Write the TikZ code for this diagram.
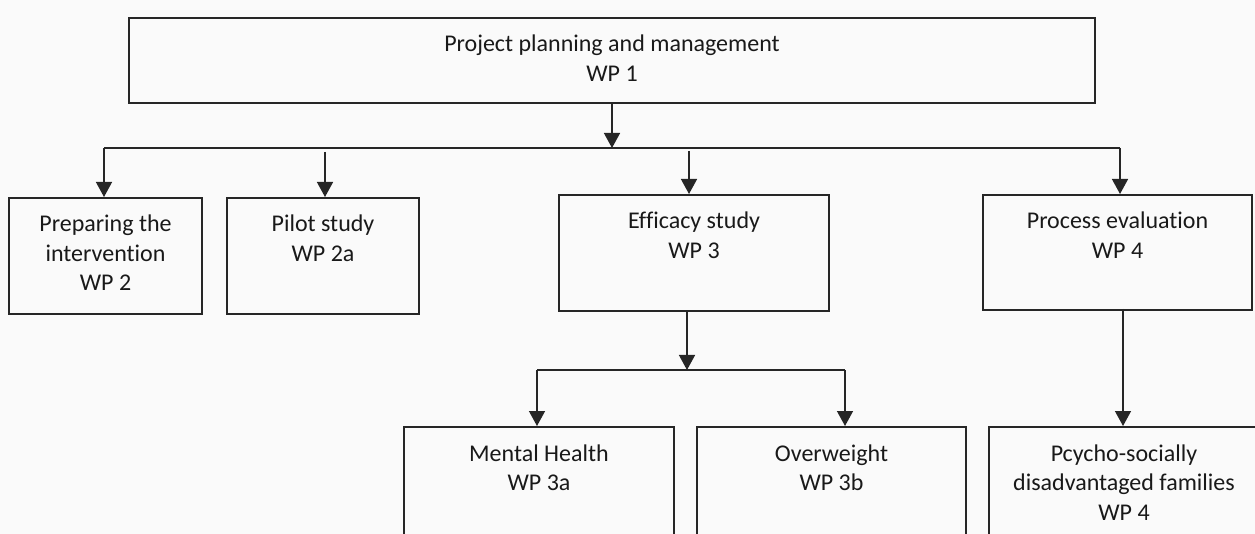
\documentclass[tikz,border=0pt]{standalone}
\usepackage{fontspec}
\setmainfont{Carlito}[Ligatures=NoCommon]
\usetikzlibrary{arrows.meta}

\tikzset{
  wpbox/.style={draw=black!85, line width=2pt, inner sep=0pt, anchor=north west,
    text=black!90, font=\fontsize{24}{29.5}\selectfont},
  link/.style={draw=black!85, line width=1.4pt},
  linkarrow/.style={link, -{Triangle[width=16pt,length=15pt]}}
}
\newcommand{\wpcell}[3]{\parbox[t][#2pt][t]{#1pt}{\centering\rule{0pt}{34pt}#3}}

\begin{document}
\begin{tikzpicture}[x=1pt,y=-1pt]
        \clip (0,0) rectangle (1255,534);
        \fill[white!98!black] (0,0) rectangle (1255,534);
        % work packages
        \node[wpbox] (top) at (128,17) {\wpcell{966}{85}{Project planning and management\\WP 1}};
        \node[wpbox] (prep) at (8,197) {\wpcell{193}{116}{Preparing the\\intervention\\WP 2}};
        \node[wpbox] (pilot) at (226,197) {\wpcell{192}{116}{Pilot study\\WP 2a}};
        \node[wpbox] (eff) at (558,194) {\wpcell{270}{116}{Efficacy study\\WP 3}};
        \node[wpbox] (proc) at (982,194) {\wpcell{269}{115}{Process evaluation\\WP 4}};
        \node[wpbox] (mental) at (403,426) {\wpcell{270}{140}{Mental Health\\WP 3a}};
        \node[wpbox] (over) at (696,426) {\wpcell{269}{140}{Overweight\\WP 3b}};
        \node[wpbox] (pcy) at (988,426) {\wpcell{270}{140}{Pcycho-socially\\disadvantaged families\\WP 4}};
        % first level
        \coordinate (bus) at (612,148);
        \coordinate (busL) at (104,148);
        \coordinate (busR) at (1120,148);
        \coordinate (pilotin) at (325,152);
        \coordinate (effin) at (689,151);
        \draw[linkarrow] (top.south -| bus) -- (bus);
        \draw[link] (busL) -- (busR);
        \draw[linkarrow] (busL) -- (busL |- prep.north);
        \draw[linkarrow] (pilotin) -- (pilotin |- pilot.north);
        \draw[linkarrow] (effin) -- (effin |- eff.north);
        \draw[linkarrow] (busR) -- (busR |- proc.north);
        % second level
        \coordinate (bus2) at (687,370);
        \coordinate (bus2L) at (537,370);
        \coordinate (bus2R) at (845,370);
        \coordinate (procout) at (1123,309);
        \draw[linkarrow] (eff.south -| bus2) -- (bus2);
        \draw[link] (bus2L) -- (bus2R);
        \draw[linkarrow] (bus2L) -- (bus2L |- mental.north);
        \draw[linkarrow] (bus2R) -- (bus2R |- over.north);
        \draw[linkarrow] (procout) -- (procout |- pcy.north);
\end{tikzpicture}
\end{document}
